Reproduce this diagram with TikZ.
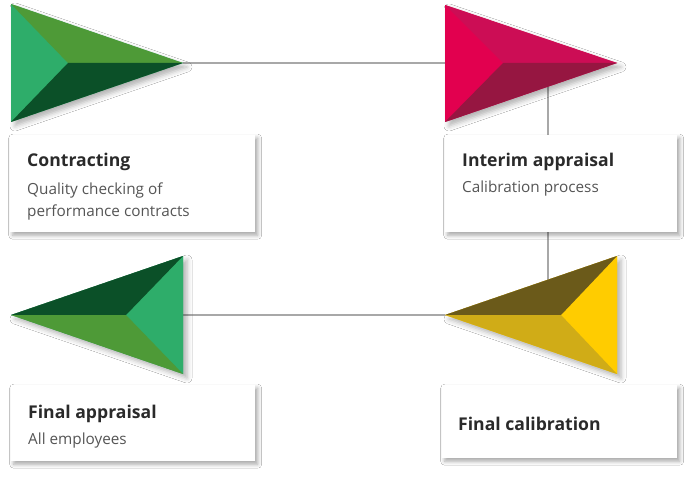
\documentclass[tikz,border=0pt]{standalone}
\usepackage{fontspec}
\setmainfont{Open Sans}
\usetikzlibrary{shadows.blur}
\definecolor{glight}{HTML}{2EAD6A}
\definecolor{gmid}{HTML}{4E9A37}
\definecolor{gdark}{HTML}{0B5028}
\definecolor{plight}{HTML}{E2004F}
\definecolor{pmid}{HTML}{CC0D55}
\definecolor{pdark}{HTML}{961641}
\definecolor{ylight}{HTML}{FFCC00}
\definecolor{ymid}{HTML}{D0AC17}
\definecolor{ydark}{HTML}{6B5A1A}
\definecolor{conncol}{HTML}{A8A8A8}
\definecolor{titlecol}{HTML}{2A2A2A}
\definecolor{subcol}{HTML}{555555}
\begin{document}
\begin{tikzpicture}[x=1pt,y=-1pt,
  conn/.style={draw=conncol, line width=1.4pt},
  card/.style={fill=white, draw=none, anchor=north west, inner sep=0pt,
    blur shadow={shadow xshift=2.5pt, shadow yshift=-3pt, shadow blur radius=4pt, shadow opacity=35}},
  arrowshadow/.style={blur shadow={shadow xshift=4pt, shadow yshift=-4pt, shadow blur radius=5pt, shadow opacity=30}},
  ttl/.style={anchor=base west, inner sep=0pt, text=titlecol, font=\fontsize{17.6}{22}\selectfont\bfseries},
  sub/.style={anchor=base west, inner sep=0pt, text=subcol, font=\fontsize{15.3}{19}\selectfont}]
\useasboundingbox[fill=white] (0,0) rectangle (695,478);
% arrow coordinates
\coordinate (a1tl) at (11,4);   \coordinate (a1bl) at (11,122);  \coordinate (a1tip) at (183,63);  \coordinate (a1c) at (68,63);
\coordinate (a2tl) at (445,5);  \coordinate (a2bl) at (445,122); \coordinate (a2tip) at (617,63);  \coordinate (a2c) at (503,63);
\coordinate (a3tr) at (183,256);\coordinate (a3br) at (183,374); \coordinate (a3tip) at (11,315);  \coordinate (a3c) at (126,315);
\coordinate (a4tr) at (617,256);\coordinate (a4br) at (617,374); \coordinate (a4tip) at (445,315); \coordinate (a4c) at (561,315);
\coordinate (v1) at (548,63); \coordinate (v2) at (548,315);
% connectors (behind)
\draw[conn] (a1tip) -- (a2c);
\draw[conn] (v1) -- (v2);
\draw[conn] (a3c) -- (a4tip);
% arrow 1
\fill[glight, arrowshadow] (a1tl) -- (a1tip) -- (a1bl) -- cycle;
\fill[glight] (a1tl) -- (a1c) -- (a1bl) -- cycle;
\fill[gmid] (a1tl) -- (a1tip) -- (a1c) -- cycle;
\fill[gdark] (a1c) -- (a1tip) -- (a1bl) -- cycle;
% arrow 2
\fill[plight, arrowshadow] (a2tl) -- (a2tip) -- (a2bl) -- cycle;
\fill[plight] (a2tl) -- (a2c) -- (a2bl) -- cycle;
\fill[pmid] (a2tl) -- (a2tip) -- (a2c) -- cycle;
\fill[pdark] (a2c) -- (a2tip) -- (a2bl) -- cycle;
% arrow 3
\fill[glight, arrowshadow] (a3tr) -- (a3tip) -- (a3br) -- cycle;
\fill[glight] (a3tr) -- (a3c) -- (a3br) -- cycle;
\fill[gdark] (a3tr) -- (a3tip) -- (a3c) -- cycle;
\fill[gmid] (a3c) -- (a3tip) -- (a3br) -- cycle;
% arrow 4
\fill[ylight, arrowshadow] (a4tr) -- (a4tip) -- (a4br) -- cycle;
\fill[ylight] (a4tr) -- (a4c) -- (a4br) -- cycle;
\fill[ydark] (a4tr) -- (a4tip) -- (a4c) -- cycle;
\fill[ymid] (a4c) -- (a4tip) -- (a4br) -- cycle;
% cards
\node[card, minimum width=245pt, minimum height=97pt] (c1) at (10,135) {};
\node[card, minimum width=232pt, minimum height=97pt] (c2) at (445,135) {};
\node[card, minimum width=244pt, minimum height=76pt] (c3) at (11,385) {};
\node[card, minimum width=235pt, minimum height=73pt] (c4) at (442,385) {};
% texts
\node[ttl] (t1) at (27,167) {Contracting};
\node[sub] (s1a) at (27,195) {Quality checking of};
\node[sub] (s1b) at (27,216) {performance contracts};
\node[ttl] (t2) at (462,167) {Interim appraisal};
\node[sub] (s2) at (462,193) {Calibration process};
\node[ttl] (t3) at (28,418) {Final appraisal};
\node[sub] (s3) at (28,444) {All employees};
\node[ttl] (t4) at (458,430) {Final calibration};
\end{tikzpicture}
\end{document}
